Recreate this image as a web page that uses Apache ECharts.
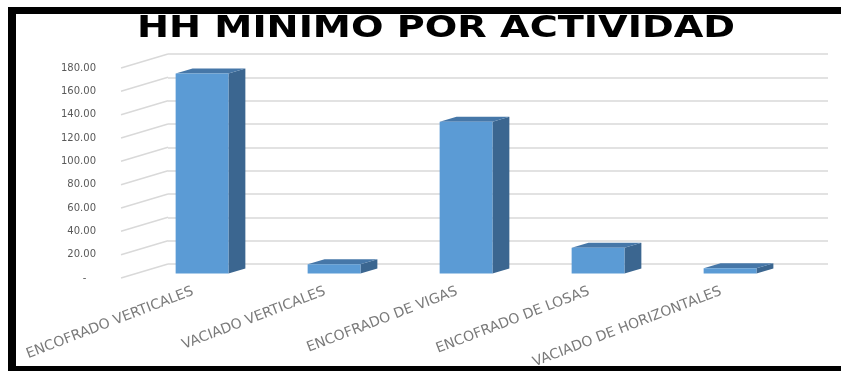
<!DOCTYPE html>
<html>
<head>
<meta charset="utf-8">
<script src="https://cdn.jsdelivr.net/npm/echarts@6/dist/echarts.min.js"></script>
<style>
  html, body { margin: 0; padding: 0; background: #ffffff; }
  #chart { width: 841px; height: 371px; }
</style>
</head>
<body>
<div id="chart"></div>
<script>
// Activities and their minimum man-hours
const categories = [
  'ENCOFRADO VERTICALES',
  'VACIADO VERTICALES',
  'ENCOFRADO DE VIGAS',
  'ENCOFRADO DE LOSAS',
  'VACIADO DE HORIZONTALES'
];
const hhValues = [171.5, 8, 130, 22, 4.5];
const yTicks = [0, 20, 40, 60, 80, 100, 120, 140, 160, 180];
const titleText = 'HH MINIMO POR ACTIVIDAD';

// Oblique depth: offset of the front plane relative to the back wall
const DEPTH_X = -47;
const DEPTH_Y = 14;
const BAR_FRONT = 0.68;   // depth fraction of the bar's front face
const BAR_BACK = 0.32;    // depth fraction of the bar's back face

const chart = echarts.init(document.getElementById('chart'), null, { renderer: 'canvas' });

function depthOffset(d) {
  return [DEPTH_X * d, DEPTH_Y * d];
}

function renderBar(params, api) {
  const i = api.value(0);
  const v = api.value(1);
  const base = api.coord([i, 0]);
  const top = api.coord([i, v]);
  const w = api.size([1, 0])[0] * 0.4;
  const f = depthOffset(BAR_FRONT);
  const b = depthOffset(BAR_BACK);
  const xl = base[0] - w / 2;
  const xr = base[0] + w / 2;
  return {
    type: 'group',
    children: [
      {
        type: 'polygon',
        shape: { points: [
          [xr + f[0], top[1] + f[1]],
          [xr + b[0], top[1] + b[1]],
          [xr + b[0], base[1] + b[1]],
          [xr + f[0], base[1] + f[1]]
        ] },
        style: { fill: '#3b6690' }
      },
      {
        type: 'polygon',
        shape: { points: [
          [xl + f[0], top[1] + f[1]],
          [xr + f[0], top[1] + f[1]],
          [xr + b[0], top[1] + b[1]],
          [xl + b[0], top[1] + b[1]]
        ] },
        style: { fill: '#4677a8' }
      },
      {
        type: 'rect',
        shape: { x: xl + f[0], y: top[1] + f[1], width: w, height: base[1] - top[1] },
        style: { fill: '#5b9bd5' }
      }
    ]
  };
}

function renderDiagonal(params, api) {
  const v = api.value(1);
  const p = api.coord([0, v]);
  const x0 = params.coordSys.x;
  return {
    type: 'line',
    shape: { x1: x0 + DEPTH_X, y1: p[1] + DEPTH_Y, x2: x0, y2: p[1] },
    style: { stroke: '#d9d9d9', lineWidth: 1.5 }
  };
}

const option = {
  animation: false,
  backgroundColor: '#ffffff',
  grid: [
    // back wall
    { left: 168, right: 13, top: 54, bottom: 107 },
    // front plane (value labels)
    { left: 121, right: 60, top: 68, bottom: 93 },
    // category labels
    { left: 127, right: 54, top: 68, bottom: 93 }
  ],
  xAxis: [
    {
      gridIndex: 0, type: 'category', data: categories, boundaryGap: true,
      axisLine: { show: false }, axisTick: { show: false }, axisLabel: { show: false }
    },
    {
      gridIndex: 1, type: 'category', data: categories, boundaryGap: true, show: false
    },
    {
      gridIndex: 2, type: 'category', data: categories, boundaryGap: true,
      axisLine: { show: false }, axisTick: { show: false },
      axisLabel: {
        interval: 0, rotate: 21, margin: 13,
        fontFamily: 'DejaVu Sans', fontSize: 14, color: '#7a7a7a'
      }
    }
  ],
  yAxis: [
    {
      gridIndex: 0, type: 'value', min: 0, max: 180, interval: 20,
      axisLine: { show: false }, axisTick: { show: false }, axisLabel: { show: false },
      splitLine: { show: true, lineStyle: { color: '#d9d9d9', width: 1.5 } }
    },
    {
      gridIndex: 1, type: 'value', min: 0, max: 180, interval: 20,
      axisLine: { show: false }, axisTick: { show: false }, splitLine: { show: false },
      axisLabel: {
        margin: 25, fontFamily: 'DejaVu Sans', fontSize: 10, color: '#595959',
        formatter: function (v) { return v === 0 ? '-   ' : v.toFixed(2); }
      }
    },
    {
      gridIndex: 2, type: 'value', min: 0, max: 180, show: false
    }
  ],
  series: [
    {
      type: 'custom', xAxisIndex: 0, yAxisIndex: 0, z: 1,
      renderItem: renderDiagonal,
      data: yTicks.map(function (t) { return [0, t]; }),
      silent: true
    },
    {
      type: 'custom', xAxisIndex: 0, yAxisIndex: 0, z: 3,
      renderItem: renderBar,
      data: hhValues.map(function (v, i) { return [i, v]; })
    }
  ],
  graphic: [
    { type: 'rect', shape: { x: 8, y: 7, width: 833, height: 7 }, style: { fill: '#000000' } },
    { type: 'rect', shape: { x: 8, y: 7, width: 8, height: 364 }, style: { fill: '#000000' } },
    { type: 'rect', shape: { x: 8, y: 366, width: 833, height: 5 }, style: { fill: '#000000' } },
    {
      type: 'text', x: 436, y: 44, scaleX: 1.275,
      style: {
        text: titleText, font: 'bold 30px "DejaVu Sans"',
        align: 'center', verticalAlign: 'bottom',
        textAlign: 'center', textVerticalAlign: 'bottom', fill: '#000000'
      }
    }
  ]
};

chart.setOption(option);
</script>
</body>
</html>
